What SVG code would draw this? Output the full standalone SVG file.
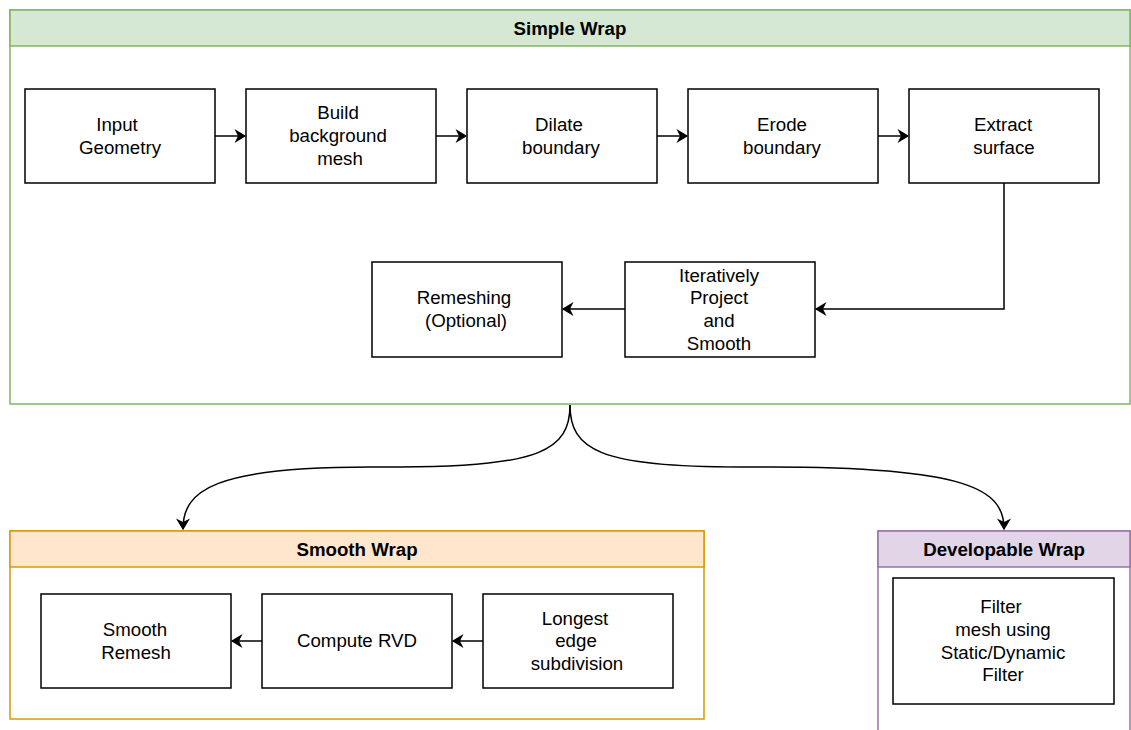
<svg xmlns="http://www.w3.org/2000/svg" width="1131" height="730" viewBox="0 0 1131 730">
<style>
.box{fill:#fff;stroke:#000;stroke-width:1.5}
.t{font-family:"Liberation Sans",Arial,sans-serif;font-size:18.7px;fill:#000;text-anchor:middle}
.h{font-family:"Liberation Sans",Arial,sans-serif;font-size:18.7px;font-weight:bold;fill:#000;text-anchor:middle}
.c{fill:none;stroke:#000;stroke-width:1.5}
</style>
<defs>
<marker id="arr2" viewBox="0 0 10 12" refX="9" refY="6" markerWidth="14" markerHeight="14" markerUnits="userSpaceOnUse" orient="auto">
<path d="M0,0 L10,6 L0,12 L3,6 Z" fill="#000"/>
</marker>
</defs>
<rect width="1131" height="730" fill="#fff"/>

<g id="simple-wrap">
<rect x="10" y="10" width="1120" height="394" fill="#fff" stroke="#82b366" stroke-width="1.5"/>
<rect x="10" y="10" width="1120" height="36" fill="#d5e8d4" stroke="#82b366" stroke-width="1.5"/>
<text class="h" x="570" y="35">Simple Wrap</text>
</g>
<g id="smooth-wrap">
<rect x="10" y="531" width="694" height="188" fill="#fff" stroke="#d79b00" stroke-width="1.5"/>
<rect x="10" y="531" width="694" height="36" fill="#ffe6cc" stroke="#d79b00" stroke-width="1.5"/>
<text class="h" x="357" y="556">Smooth Wrap</text>
</g>
<g id="developable-wrap">
<rect x="878" y="531" width="252" height="210" fill="#fff" stroke="#9673a6" stroke-width="1.5"/>
<rect x="878" y="531" width="252" height="36" fill="#e1d5e7" stroke="#9673a6" stroke-width="1.5"/>
<text class="h" x="1004" y="556">Developable Wrap</text>
</g>

<g id="input-geometry"><rect class="box" x="25" y="89" width="190" height="94"/>
<text class="t" x="117" y="131">Input</text><text class="t" x="120" y="154">Geometry</text></g>
<g id="build-background-mesh"><rect class="box" x="246" y="89" width="190" height="94"/>
<text class="t" x="338" y="119">Build</text><text class="t" x="338" y="142">background</text><text class="t" x="340" y="165">mesh</text></g>
<g id="dilate-boundary"><rect class="box" x="467" y="89" width="190" height="94"/>
<text class="t" x="559" y="131">Dilate</text><text class="t" x="561" y="154">boundary</text></g>
<g id="erode-boundary"><rect class="box" x="688" y="89" width="190" height="94"/>
<text class="t" x="782" y="131">Erode</text><text class="t" x="782" y="154">boundary</text></g>
<g id="extract-surface"><rect class="box" x="909" y="89" width="190" height="94"/>
<text class="t" x="1003" y="131">Extract</text><text class="t" x="1004" y="154">surface</text></g>
<g id="remeshing"><rect class="box" x="372" y="262" width="190" height="95"/>
<text class="t" x="464" y="304">Remeshing</text><text class="t" x="466" y="327">(Optional)</text></g>
<g id="iteratively"><rect class="box" x="625" y="262" width="190" height="95"/>
<text class="t" x="719" y="282">Iteratively</text><text class="t" x="719" y="304">Project</text><text class="t" x="719" y="327">and</text><text class="t" x="719" y="350">Smooth</text></g>

<g id="smooth-remesh"><rect class="box" x="41" y="594" width="190" height="94"/>
<text class="t" x="135" y="636">Smooth</text><text class="t" x="136" y="659">Remesh</text></g>
<g id="compute-rvd"><rect class="box" x="262" y="594" width="190" height="94"/>
<text class="t" x="357" y="647">Compute RVD</text></g>
<g id="longest-edge"><rect class="box" x="483" y="594" width="190" height="94"/>
<text class="t" x="575" y="625">Longest</text><text class="t" x="576" y="647">edge</text><text class="t" x="577" y="670">subdivision</text></g>
<g id="filter-mesh"><rect class="box" x="893" y="578" width="221" height="126"/>
<text class="t" x="1001" y="613">Filter</text><text class="t" x="1003" y="636">mesh using</text><text class="t" x="1003" y="659">Static/Dynamic</text><text class="t" x="1003" y="681">Filter</text></g>

<g id="connectors">
<path class="c" d="M215,136 L245,136" marker-end="url(#arr2)"/>
<path class="c" d="M436,136 L466,136" marker-end="url(#arr2)"/>
<path class="c" d="M657,136 L687,136" marker-end="url(#arr2)"/>
<path class="c" d="M878,136 L908,136" marker-end="url(#arr2)"/>
<path class="c" d="M1004,183 L1004,309 L816,309" marker-end="url(#arr2)"/>
<path class="c" d="M625,309 L563,309" marker-end="url(#arr2)"/>
<path class="c" d="M483,641 L453,641" marker-end="url(#arr2)"/>
<path class="c" d="M262,641 L232,641" marker-end="url(#arr2)"/>
<path class="c" d="M570,405 C570,450 540,467 400,467 L370,467 C215,467 183,490 183,529" marker-end="url(#arr2)"/>
<path class="c" d="M570,405 C570,450 600,467 740,467 L770,467 C970,467 1004,490 1004,529" marker-end="url(#arr2)"/>
</g>
</svg>
